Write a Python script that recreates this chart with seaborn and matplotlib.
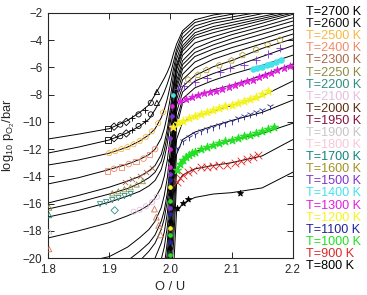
import pandas as pd
import matplotlib
matplotlib.use('Agg')
import matplotlib.pyplot as plt
import seaborn as sns

# temperatures shown in the colour key, top to bottom, and their text colours
temps = [2700, 2600, 2500, 2400, 2300, 2250, 2200, 2100, 2000, 1950, 1900,
         1800, 1700, 1600, 1500, 1400, 1300, 1200, 1100, 1000, 900, 800]
label_colors = ['#000000', '#111111', '#f6b845', '#f28a68', '#a8684c', '#8f8c45',
                '#2e8f80', '#e6bfe0', '#5c2c12', '#86123f', '#c6c6c6', '#f6c8d8',
                '#138585', '#a39222', '#8033d4', '#45e2ea', '#e020e0', '#f4f420',
                '#22229c', '#22e022', '#e02828', '#000000']

# model curves (log10 pO2), one row per temperature
hypo_x = [1.80, 1.85, 1.90, 1.93, 1.95, 1.965, 1.975, 1.985, 1.99, 1.995, 2.000]
hypo_logp = [
    [-11.26, -10.9, -10.5, -9.9, -9.3, -8.75, -8.0, -7.2, -6.8, -6.35, -5.8],
    [-12.29, -11.85, -11.33, -10.8, -10.3, -9.8, -9.1, -8.3, -7.8, -7.2, -6.5],
    [-13.17, -12.8, -12.3, -11.85, -11.4, -10.95, -10.5, -9.7, -9.1, -8.3, -7.3],
    [-14.56, -14.1, -13.5, -13.1, -12.75, -12.4, -12.0, -11.2, -10.5, -9.5, -8.2],
    [-15.96, -15.4, -14.8, -14.35, -14.0, -13.6, -13.2, -12.4, -11.6, -10.5, -9.0],
    [-16.40, -15.9, -15.3, -14.9, -14.5, -14.1, -13.7, -12.9, -12.1, -11.0, -9.5],
    [-16.99, -16.5, -15.9, -15.45, -15.1, -14.7, -14.3, -13.5, -12.7, -11.6, -10.0],
    [-18.53, -18.0, -17.4, -16.9, -16.5, -16.1, -15.6, -14.8, -14.0, -12.8, -11.0],
    [-20.8, -20.4, -19.9, -19.2, -18.5, -17.9, -17.3, -16.3, -15.4, -14.1, -12.0],
    [-23.0, -22.2, -21.3, -20.2, -19.5, -18.9, -18.3, -17.3, -16.5, -15.2, -13.0],
    [-24.5, -23.5, -22.4, -21.3, -20.2, -19.5, -18.9, -17.9, -17.1, -15.8, -13.6],
    [-26.5, -25.5, -24.5, -23.5, -22.4, -21.0, -20.0, -18.9, -18.1, -16.7, -14.4],
    [-28.5, -27.5, -26.5, -25.5, -24.5, -22.8, -21.4, -20.1, -19.2, -17.7, -15.2],
    [-30.0, -29.0, -28.0, -27.0, -26.0, -24.5, -23.2, -21.7, -20.6, -18.8, -16.0],
    [-31.0, -30.0, -29.0, -28.0, -27.0, -26.0, -24.5, -22.6, -21.4, -19.6, -16.8],
    [-32.0, -31.0, -30.0, -29.0, -28.0, -27.0, -26.0, -24.0, -22.3, -20.4, -17.6],
    [-33.0, -32.0, -31.0, -30.0, -29.0, -28.0, -27.0, -25.0, -23.2, -21.2, -18.4],
    [-34.0, -33.0, -32.0, -31.0, -30.0, -29.0, -28.0, -26.0, -24.2, -22.0, -19.2],
    [-35.0, -34.0, -33.0, -32.0, -31.0, -30.0, -29.0, -27.0, -25.2, -23.0, -20.0],
    [-36.0, -35.0, -34.0, -33.0, -32.0, -31.0, -30.0, -28.0, -26.2, -24.0, -21.0],
    [-37.0, -36.0, -35.0, -34.0, -33.0, -32.0, -31.0, -29.0, -27.2, -25.0, -22.2],
    [-38.0, -37.0, -36.0, -35.0, -34.0, -33.0, -32.0, -30.0, -28.2, -26.0, -23.5],
]
hyper_x = [2.005, 2.01, 2.02, 2.04, 2.07, 2.10, 2.15, 2.20]
hyper_logp = [
    [-5.0, -4.3, -3.3, -2.5, -2.15, -1.95, -1.6, -1.2],
    [-5.6, -4.7, -3.5, -2.7, -2.35, -2.1, -1.75, -1.35],
    [-6.1, -5.0, -3.8, -2.95, -2.55, -2.3, -1.9, -1.5],
    [-6.6, -5.4, -4.1, -3.2, -2.75, -2.5, -2.05, -1.65],
    [-7.2, -5.8, -4.4, -3.45, -3.0, -2.7, -2.25, -1.8],
    [-7.5, -6.0, -4.6, -3.65, -3.2, -2.9, -2.4, -1.9],
    [-7.9, -6.2, -4.8, -3.85, -3.45, -3.1, -2.55, -2.0],
    [-8.6, -6.6, -5.1, -4.2, -3.75, -3.35, -2.75, -2.1],
    [-9.3, -7.0, -5.5, -4.6, -4.05, -3.6, -3.0, -2.35],
    [-9.7, -7.3, -5.8, -4.9, -4.35, -3.9, -3.25, -2.6],
    [-10.1, -7.6, -6.1, -5.2, -4.65, -4.2, -3.55, -2.9],
    [-10.7, -8.0, -6.5, -5.6, -5.0, -4.55, -3.9, -3.2],
    [-11.3, -8.4, -6.9, -6.05, -5.4, -4.95, -4.25, -3.55],
    [-12.0, -8.8, -7.4, -6.6, -5.95, -5.5, -4.6, -3.9],
    [-12.6, -9.3, -7.8, -7.0, -6.45, -6.0, -5.2, -4.4],
    [-13.3, -9.9, -8.3, -7.5, -6.95, -6.5, -5.85, -5.1],
    [-14.2, -10.4, -8.6, -8.1, -7.65, -7.3, -6.6, -5.75],
    [-15.2, -11.3, -10.0, -9.6, -9.2, -8.8, -8.1, -7.0],
    [-16.4, -12.4, -11.3, -10.75, -10.3, -9.9, -9.3, -8.4],
    [-17.6, -13.7, -12.8, -12.2, -11.75, -11.35, -10.85, -10.1],
    [-19.0, -14.6, -13.9, -13.45, -13.2, -13.0, -12.5, -11.3],
    [-21.0, -16.6, -16.0, -15.55, -15.3, -15.2, -14.85, -13.7],
]

# measured points, hypo-stoichiometric side
blk_x = [1.898, 1.908, 1.918, 1.928, 1.938, 1.948, 1.958, 1.968, 1.978]
blk_2700_y = [-10.5, -10.35, -10.2, -10.0, -9.75, -9.45, -9.1, -8.6, -7.8]
blk_2600_y = [-11.33, -11.2, -11.05, -10.85, -10.6, -10.3, -9.95, -9.45, -8.6]
blk_marks = ['s', 'D', 'o', 'D', '+', 'o', '+', 'o', '^']
t2500_x = [1.900, 1.910, 1.920, 1.930, 1.940, 1.950, 1.960, 1.970, 1.980, 1.988]
t2500_y = [-12.3, -12.15, -12.0, -11.85, -11.65, -11.4, -11.1, -10.7, -10.1, -9.3]
t2400_x = [1.897, 1.908, 1.920, 1.932, 1.944, 1.956, 1.966, 1.975]
t2400_y = [-13.6, -13.45, -13.3, -13.1, -12.9, -12.7, -12.4, -12.0]
t2300_x = [1.925, 1.938, 1.950, 1.960, 1.970]
t2300_y = [-14.4, -14.2, -14.0, -13.7, -13.4]
t2250_x = [1.905, 1.915, 1.925, 1.935, 1.945, 1.955]
t2250_y = [-15.25, -15.1, -14.95, -14.8, -14.6, -14.35]
t2200_x = [1.885, 1.895, 1.905, 1.915, 1.925, 1.935]
t2200_y = [-16.05, -15.9, -15.75, -15.6, -15.45, -15.3]
t2100_x = [1.940, 1.950, 1.960, 1.970, 1.978]
t2100_y = [-16.6, -16.45, -16.2, -15.9, -15.5]
t1950_x = [1.974, 1.977, 1.981, 1.984]
t1950_y = [-16.4, -17.0, -17.6, -18.3]
edge_x = [1.802, 1.802, 1.802, 1.802]
edge_y = [-16.3, -16.85, -18.05, -19.35]
edge_colors = ['#8f8c45', '#2e8f80', '#c6c6c6', '#d07a5a']

# points piled up at O/U = 2
stoich_x = [2.0, 2.0, 2.0, 2.0, 2.0, 2.0, 2.0, 2.0, 2.0, 2.0, 2.0, 2.0, 2.0,
            2.0, 2.0, 1.999, 2.0, 2.001, 2.002, 2.003, 2.004]
stoich_y = [-19.8, -19.3, -18.8, -18.3, -17.8, -17.3, -16.8, -16.3, -15.8, -15.3,
            -14.8, -14.3, -13.8, -13.3, -12.8, -12.0, -11.2, -10.4, -9.6, -8.8, -8.0]
stoich_colors = ['#22e022', '#000000', '#22229c', '#22e022', '#f4f420', '#000000',
                 '#22229c', '#8033d4', '#22e022', '#000000', '#f4f420', '#22229c',
                 '#8033d4', '#e020e0', '#000000', '#e020e0', '#8033d4', '#e020e0',
                 '#8033d4', '#e020e0', '#45e2ea']

# measured points, hyper-stoichiometric side
t1600_x = [2.029, 2.045, 2.059, 2.080, 2.100, 2.118, 2.140, 2.159, 2.179]
t1600_y = [-6.9, -6.55, -6.2, -5.85, -5.5, -5.1, -4.7, -4.35, -3.98]
t1500_x = [2.012, 2.022, 2.040, 2.059, 2.081, 2.097, 2.120, 2.140, 2.160, 2.179]
t1500_y = [-7.6, -7.4, -7.1, -6.8, -6.3, -6.05, -5.8, -5.45, -5.0, -4.6]
t1400_x = [2.135, 2.142, 2.150, 2.158, 2.165, 2.172, 2.180]
t1400_y = [-6.15, -6.05, -5.95, -5.85, -5.75, -5.6, -5.45]
t1300_x = [2.016, 2.025, 2.035, 2.045, 2.055, 2.065, 2.075, 2.085, 2.095, 2.105,
           2.115, 2.125, 2.135, 2.145, 2.155, 2.165, 2.175, 2.185, 2.195]
t1300_y = [-8.5, -8.3, -8.15, -8.0, -7.9, -7.8, -7.7, -7.6, -7.45, -7.3,
           -7.15, -7.0, -6.9, -6.7, -6.55, -6.4, -6.2, -6.05, -5.9]
t1200_x = [2.004, 2.012, 2.020, 2.030, 2.040, 2.050, 2.060, 2.070, 2.080,
           2.090, 2.100, 2.110, 2.120, 2.130, 2.140, 2.150, 2.160]
t1200_y = [-10.4, -10.1, -9.9, -9.75, -9.6, -9.45, -9.3, -9.15, -9.0,
           -8.85, -8.75, -8.6, -8.45, -8.3, -8.15, -7.95, -7.7]
t1100_x = [2.010, 2.020, 2.030, 2.040, 2.050, 2.060, 2.070, 2.080,
           2.090, 2.100, 2.110, 2.120, 2.130, 2.140, 2.150, 2.162]
t1100_y = [-11.9, -11.4, -11.1, -10.9, -10.7, -10.5, -10.35, -10.2,
           -10.05, -9.9, -9.75, -9.6, -9.45, -9.3, -9.1, -8.8]
t1000_x = [2.010, 2.015, 2.020, 2.025, 2.030, 2.035, 2.040, 2.050, 2.060, 2.070,
           2.080, 2.090, 2.100, 2.110, 2.120, 2.130, 2.140, 2.150, 2.160, 2.170]
t1000_y = [-13.5, -13.1, -12.8, -12.6, -12.4, -12.3, -12.2, -12.0, -11.85, -11.7,
           -11.55, -11.4, -11.3, -11.2, -11.05, -10.95, -10.85, -10.7, -10.55, -10.4]
t900_x = [2.010, 2.015, 2.020, 2.028, 2.037, 2.050, 2.060, 2.070, 2.080,
          2.092, 2.105, 2.115, 2.125, 2.135, 2.143]
t900_y = [-14.4, -14.1, -13.9, -13.7, -13.5, -13.35, -13.3, -13.25, -13.2,
          -13.15, -13.0, -12.85, -12.7, -12.55, -12.4]
t800_x = [2.010, 2.021, 2.029, 2.114]
t800_y = [-16.3, -15.97, -15.7, -15.2]

sns.set_style('ticks')
plt.rcParams['font.family'] = ['Liberation Sans', 'DejaVu Sans']
plt.rcParams['mathtext.fontset'] = 'custom'
plt.rcParams['mathtext.rm'] = 'Liberation Sans'
plt.rcParams['mathtext.it'] = 'Liberation Sans'

fig = plt.figure(figsize=(3.67, 2.95), dpi=100)
ax = fig.add_axes([0.1308, 0.1254, 0.667, 0.8306])

# long table of all model curves
rows = []
for t, lo, hi in zip(temps, hypo_logp, hyper_logp):
    for x, y in zip(hypo_x + hyper_x, lo + hi):
        rows.append((t, x, y))
curves = pd.DataFrame(rows, columns=['T', 'OU', 'logp'])
sns.lineplot(data=curves, x='OU', y='logp', units='T', estimator=None, sort=False,
             color='black', lw=0.7, ax=ax, legend=False, zorder=2)


def dots(x, y, color, marker, size=14, hollow=False):
    kw = {'facecolor': 'none'} if hollow else {}
    sns.scatterplot(x=x, y=y, ax=ax, marker=marker, s=size, color=color,
                    edgecolor=color, linewidth=0.6, legend=False, zorder=3, **kw)


for x, y1, y2, m in zip(blk_x, blk_2700_y, blk_2600_y, blk_marks):
    dots([x, x], [y1, y2], 'black', m, hollow=m not in '+')
dots(t2500_x, t2500_y, '#f6b845', 'p', 18, hollow=True)
dots(t2400_x[::2], t2400_y[::2], '#f28a68', 's', 16, hollow=True)
dots(t2400_x[1::2], t2400_y[1::2], '#f28a68', 'o', 16, hollow=True)
dots(t2300_x, t2300_y, '#a8684c', 'x', 14)
dots(t2250_x, t2250_y, '#8f8c45', '^', 14, hollow=True)
dots(t2200_x, t2200_y, '#2e8f80', 'v', 14, hollow=True)
dots([1.909], [-16.5], '#2e8f80', 'D', 14, hollow=True)
dots(t2100_x, t2100_y, '#e6bfe0', 'o', 14, hollow=True)
dots(t1950_x, t1950_y, '#d07a5a', '^', 18, hollow=True)
for x, y, c in zip(edge_x, edge_y, edge_colors):
    dots([x], [y], c, '^', 14, hollow=True)
for x, y, c in zip(stoich_x, stoich_y, stoich_colors):
    dots([x], [y], c, 'o', 7)

dots(t1600_x, t1600_y, '#b5a030', 'p', 20, hollow=True)
dots(t1500_x, t1500_y, '#8033d4', '+', 30)
dots(t1400_x, t1400_y, '#45e2ea', 'o', 16)
dots(t1300_x, t1300_y, '#e020e0', '*', 30)
dots(t1200_x, t1200_y, '#f4f420', '*', 40)
dots(t1100_x, t1100_y, '#22229c', '1', 30)
dots(t1000_x, t1000_y, '#22e022', '*', 40)
dots(t900_x, t900_y, '#e02828', 'x', 30)
dots(t800_x, t800_y, 'black', '*', 20)

ax.set_xlim(1.8, 2.2)
ax.set_ylim(-20, -2)
ax.set_xticks([1.8, 1.9, 2.0, 2.1, 2.2])
ax.set_yticks(range(-20, -1, 2))
ax.tick_params(direction='in', top=True, right=True, length=4, width=0.7,
               labelsize=8.3, pad=4)
for s in ax.spines.values():
    s.set_linewidth(0.8)
ax.set_xlabel('O / U', fontsize=9.3)
ax.set_ylabel(r'log$_{10}$ p$_{\mathrm{O_2}}$/bar', fontsize=9.3)
ax.xaxis.set_label_coords(0.5, -0.095)
ax.yaxis.set_label_coords(-0.125, 0.5)

# temperature key as coloured text beside the axes
for i, (t, c) in enumerate(zip(temps, label_colors)):
    fig.text(306 / 367, 1 - (12 + i * 12.1) / 295, 'T=%d K' % t, color=c,
             fontsize=9.1, va='center', ha='left')

fig.savefig('out.png', dpi=100)
